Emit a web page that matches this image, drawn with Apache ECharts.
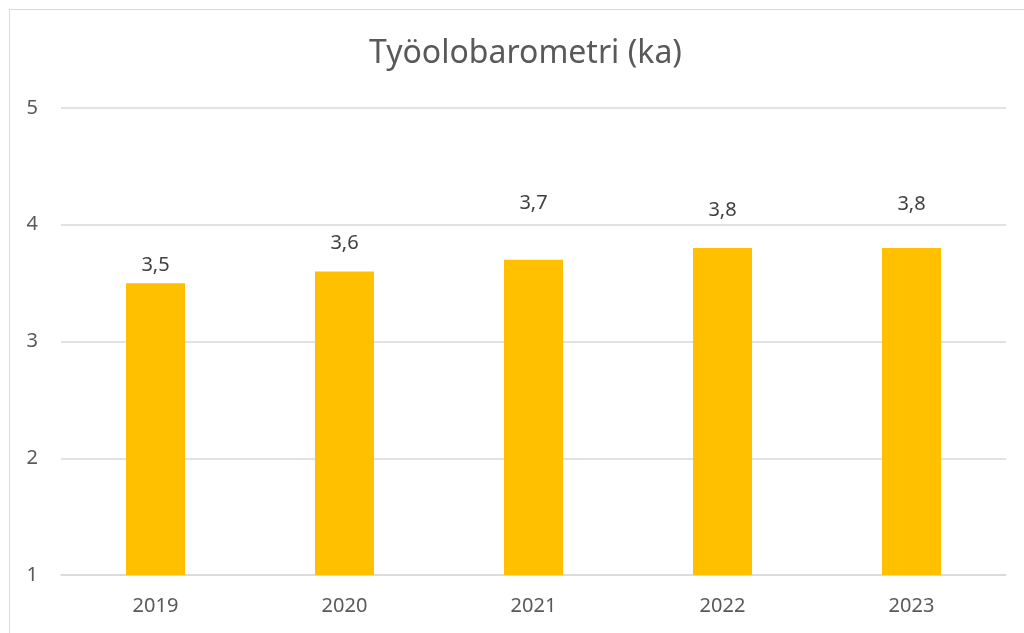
<!DOCTYPE html>
<html>
<head>
<meta charset="utf-8">
<script src="https://cdn.jsdelivr.net/npm/echarts@6/dist/echarts.min.js"></script>
<style>
  html, body { margin: 0; padding: 0; background: #fff; overflow: hidden; }
  #frame { position: absolute; left: 9px; top: 9px; width: 1030px; height: 640px; border: 1px solid #d9d9d9; }
  #main { position: absolute; left: 0; top: 0; width: 1024px; height: 633px; }
</style>
</head>
<body>
<div id="frame"></div>
<div id="main"></div>
<script>
const years = ['2019', '2020', '2021', '2022', '2023']
const averages = [3.5, 3.6, 3.7, 3.8, 3.8]
// how far each value label sits above its bar (as placed in the original)
const labelGap = [8, 18, 46, 28, 34]

const font = 'Noto Sans'
let myChart = echarts.init(document.getElementById('main'));
myChart.setOption({
  animation: false,
  title: {
    text: 'Työolobarometri (ka)',
    left: 364,
    top: 33,
    textStyle: { fontFamily: font, fontSize: 32, fontWeight: 'normal', color: '#595959' }
  },
  grid: { left: 61, right: 18, top: 108, bottom: 58 },
  xAxis: {
    type: 'category',
    data: years,
    axisLine: { lineStyle: { color: '#d9d9d9', width: 1.5 } },
    axisTick: { show: false },
    axisLabel: { fontFamily: font, fontSize: 20, color: '#595959', margin: 21 }
  },
  yAxis: {
    type: 'value',
    min: 1,
    max: 5,
    interval: 1,
    axisLine: { show: false },
    axisTick: { show: false },
    splitLine: { lineStyle: { color: '#d9d9d9', width: 1.5 } },
    axisLabel: { fontFamily: font, fontSize: 20, color: '#595959', margin: 23 }
  },
  series: [
    {
      type: 'bar',
      barWidth: 59,
      itemStyle: { color: '#ffc000' },
      data: averages.map((v, i) => ({
        value: v,
        label: { distance: labelGap[i] }
      })),
      label: {
        show: true,
        position: 'top',
        fontFamily: font,
        fontSize: 20,
        color: '#404040',
        formatter: p => String(p.value).replace('.', ',')
      }
    }
  ]
});
</script>
</body>
</html>
